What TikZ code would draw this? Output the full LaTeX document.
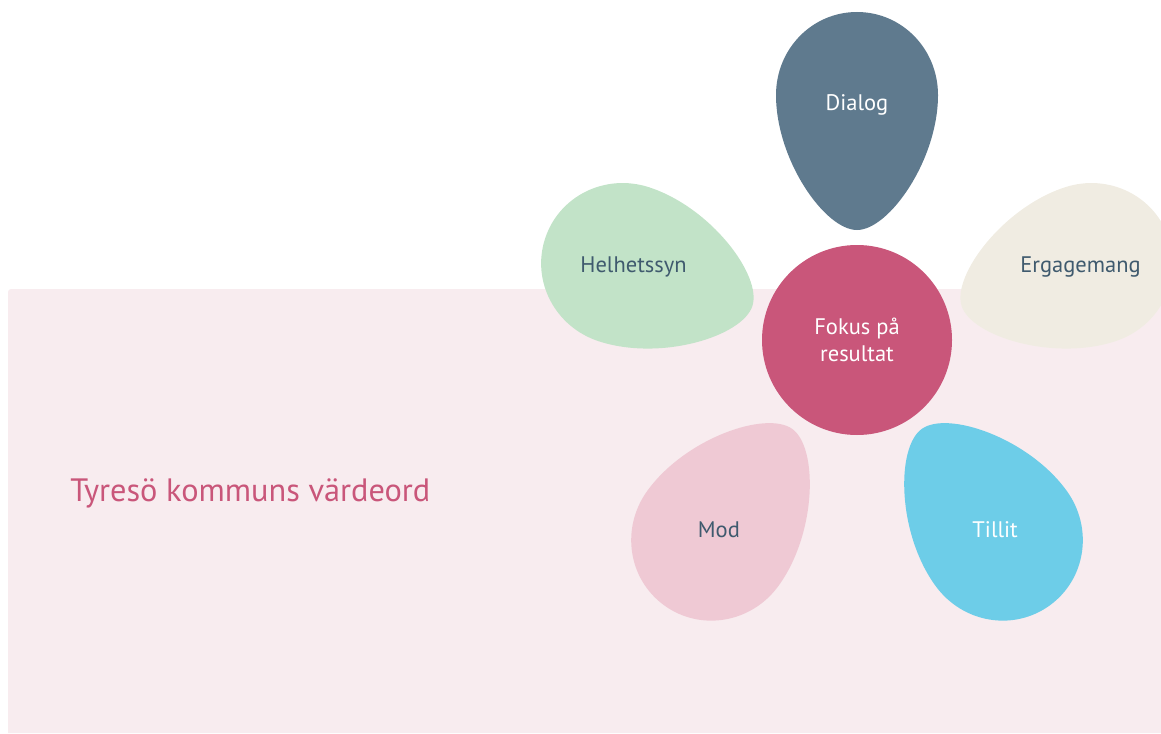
\documentclass[tikz,border=0pt]{standalone}
\usepackage{fontspec}
\setmainfont{PT Sans}
\definecolor{bgpink}{HTML}{F8ECEF}
\definecolor{focuspink}{HTML}{C9567A}
\definecolor{dialogblue}{HTML}{5F7A8E}
\definecolor{wholegreen}{HTML}{C2E3C8}
\definecolor{engagecream}{HTML}{F0ECE2}
\definecolor{couragepink}{HTML}{EFC9D4}
\definecolor{trustblue}{HTML}{6DCDE8}
\definecolor{wordslate}{HTML}{3F5A6E}
\begin{document}
\begin{tikzpicture}[x=0.025cm, y=0.025cm,
        petaltext/.style={font=\fontsize{16}{19}\selectfont, align=center, inner sep=0}]
        \useasboundingbox (0, 0) rectangle (1161, 733);
        \fill [bgpink] (8, 0) -- (8, 441) arc (180:90:3) -- (1161, 444) -- (1161, 0) -- cycle;
        \coordinate (centre) at (857, 393);
        \foreach \name/\ang/\fillcol/\txtcol/\txt in {dialog/90/dialogblue/white/Dialog,
                wholeview/162/wholegreen/wordslate/Helhetssyn,
                engage/18/engagecream/wordslate/Ergagemang,
                courage/234/couragepink/wordslate/Mod,
                trust/306/trustblue/white/Tillit} {
            \begin{scope}[shift={(centre)}, rotate=\ang]
                \fill [\fillcol] (110, 0) .. controls (110, 32) and (180, 81) .. (245, 81)
                    .. controls (291, 81) and (328, 45) .. (328, 0)
                    .. controls (328, -45) and (291, -81) .. (245, -81)
                    .. controls (180, -81) and (110, -32) .. cycle;
                \node [petaltext, text=\txtcol] (\name) at (235, 0) {\txt};
            \end{scope}
        }
        \fill [focuspink] (centre) circle (95);
        \node [petaltext, text=white] (focus) at (centre) {Fokus på\\resultat};
        \node [anchor=base west, inner sep=0, text=focuspink, font=\fontsize{23}{27}\selectfont] (title) at (70, 232) {Tyresö kommuns värdeord};
    \end{tikzpicture}
\end{document}
